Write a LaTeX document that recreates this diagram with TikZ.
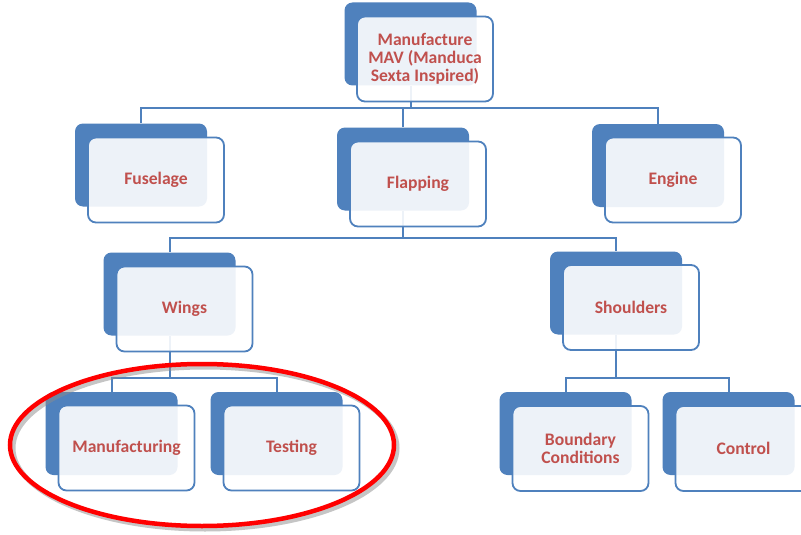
\documentclass[tikz,border=0pt]{standalone}
\usepackage{fontspec}
\setmainfont{Carlito}
\usetikzlibrary{calc}
\definecolor{ofblue}{HTML}{4F81BD}
\definecolor{ofred}{HTML}{C0504D}
\tikzset{
  backbox/.style={draw=none, fill=ofblue, rounded corners=8pt, minimum width=132pt, minimum height=83pt, inner sep=0pt},
  frontbox/.style={draw=ofblue, line width=1.8pt, fill=white, fill opacity=0.9, text opacity=1, rounded corners=8pt, minimum width=136pt, minimum height=85pt, inner sep=2pt, text=ofred, font=\fontsize{17.6}{18}\selectfont\bfseries, align=center},
  conn/.style={draw=ofblue, line width=2pt},
  ring/.style={draw=red, line width=4.5pt},
  ringshadow/.style={draw=black!45, line width=5pt, opacity=0.5}
}
\begin{document}
\begin{tikzpicture}[x=1pt,y=-1pt]
\clip (0,0) rectangle (801,535);
\fill[white] (0,0) rectangle (801,535);
% back boxes
\node[backbox] (topB) at (410.5,44) {};
\node[backbox] (fusB) at (141,165) {};
\node[backbox] (flaB) at (403,169) {};
\node[backbox] (engB) at (658,165.5) {};
\node[backbox] (winB) at (169.5,294) {};
\node[backbox] (shoB) at (616,293) {};
\node[backbox] (manB) at (111.5,433.5) {};
\node[backbox] (tesB) at (276.5,433.5) {};
\node[backbox] (bouB) at (565.5,433.5) {};
\node[backbox] (conB) at (728.5,433.5) {};
% bar levels
\coordinate (bar1) at (0,108);
\coordinate (bar2) at (0,238);
\coordinate (bar3) at (0,378);
% connectors
\draw[conn] (topB.south) -- (topB.south |- bar1) -| (fusB.north);
\draw[conn] (topB.south |- bar1) -| (flaB.north);
\draw[conn] (topB.south |- bar1) -| (engB.north);
\draw[conn] (flaB.south) -- (flaB.south |- bar2) -| (winB.north);
\draw[conn] (flaB.south |- bar2) -| (shoB.north);
\draw[conn] (winB.south) -- (winB.south |- bar3) -| (manB.north);
\draw[conn] (winB.south |- bar3) -| (tesB.north);
\draw[conn] (shoB.south) -- (shoB.south |- bar3) -| (bouB.north);
\draw[conn] (shoB.south |- bar3) -| (conB.north);
% front boxes
\node[frontbox] (topF) at (425,59) {Manufacture\\MAV (Manduca\\Sexta Inspired)};
\node[frontbox] (fusF) at (156,180) {Fuselage};
\node[frontbox] (flaF) at (418,184) {Flapping};
\node[frontbox] (engF) at (673,180) {Engine};
\node[frontbox] (winF) at (184.5,309) {Wings};
\node[frontbox] (shoF) at (631,307.5) {Shoulders};
\node[frontbox] (manF) at (126.5,448) {Manufacturing};
\node[frontbox] (tesF) at (291.5,448) {Testing};
\node[frontbox] (bouF) at (580.5,448.5) {Boundary\\Conditions};
\node[frontbox] (conF) at (743.5,448.5) {Control};
% highlight ring
\draw[ringshadow] (205,448) ellipse [x radius=192, y radius=81];
\draw[ring] (202,445) ellipse [x radius=192, y radius=81];
\end{tikzpicture}
\end{document}
